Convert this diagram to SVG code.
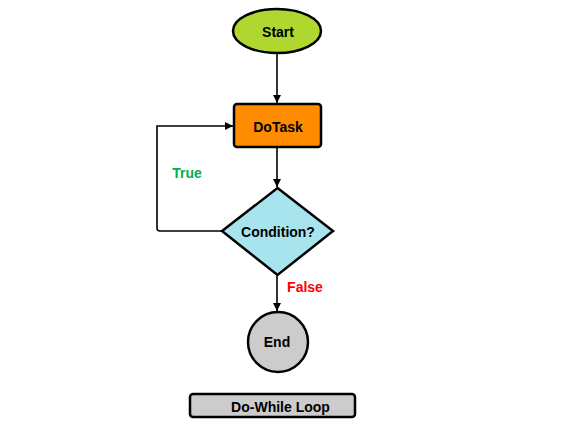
<svg xmlns="http://www.w3.org/2000/svg" width="573" height="429" viewBox="0 0 573 429">
<style>
.shape{stroke:#000;stroke-width:2.5}
.conn{fill:none;stroke:#000;stroke-width:1.6}
.t{font-family:"Liberation Sans",Arial,sans-serif;font-weight:bold;font-size:14px;text-anchor:middle;fill:#000}
</style>
<defs>
<marker id="arr" viewBox="0 0 10 10" refX="10" refY="5" markerWidth="8" markerHeight="8" markerUnits="userSpaceOnUse" orient="auto">
<path d="M0,0 L10,5 L0,10 z" fill="#000"/>
</marker>
</defs>
<rect width="573" height="429" fill="#fff"/>
<g id="connectors">
<path class="conn" d="M277,53 V103" marker-end="url(#arr)"/>
<path class="conn" d="M277,147 V187" marker-end="url(#arr)"/>
<path class="conn" d="M277,275 V311" marker-end="url(#arr)"/>
<path class="conn" d="M222,231 H160 Q157,231 157,228 V126 H233" marker-end="url(#arr)"/>
<text class="t" x="187" y="178" fill="#00B050" style="fill:#00B050">True</text>
<text class="t" x="305" y="292" style="fill:#FF0000">False</text>
</g>
<g id="start">
<ellipse class="shape" cx="277" cy="31" rx="44" ry="22" fill="#B0D630"/>
<text class="t" x="278" y="37">Start</text>
</g>
<g id="dotask">
<rect class="shape" x="234" y="104" width="87" height="43" rx="3" fill="#FF8C00"/>
<text class="t" x="278" y="131.5">DoTask</text>
</g>
<g id="condition">
<polygon class="shape" points="277.5,188 333,231 277.5,275 222,231" fill="#A8E4EE"/>
<text class="t" x="278" y="236.5">Condition?</text>
</g>
<g id="end">
<circle class="shape" cx="278" cy="342" r="30" fill="#CCCCCC"/>
<text class="t" x="277" y="346.5">End</text>
</g>
<g id="title">
<rect class="shape" x="190" y="394" width="165" height="23" rx="3" fill="#CCCCCC"/>
<text class="t" x="280.5" y="411.5">Do-While Loop</text>
</g>
</svg>
